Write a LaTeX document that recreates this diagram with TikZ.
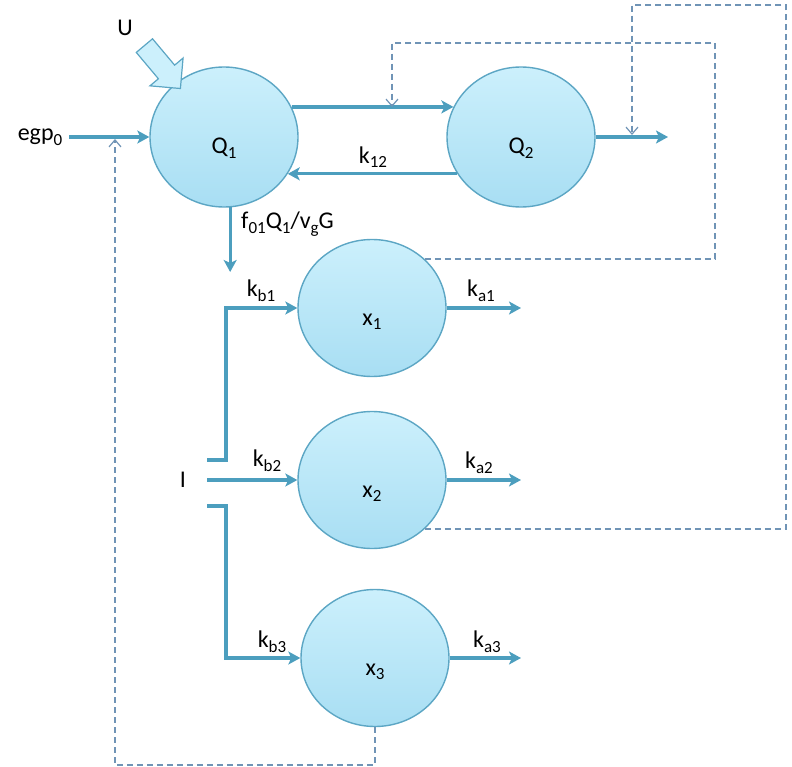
\documentclass[tikz,border=0pt]{standalone}
\usepackage{fontspec}
\setmainfont{Carlito}
\usepackage{tikz}
\usetikzlibrary{shapes.geometric, shapes.arrows, arrows.meta}

\definecolor{poolfill}{RGB}{204,240,252}
\definecolor{poolfilldark}{RGB}{168,222,243}
\definecolor{poolline}{RGB}{92,166,196}
\definecolor{flowblue}{RGB}{76,158,190}
\definecolor{dashblue}{RGB}{112,148,182}

\newcommand{\idx}[1]{\raisebox{-0.4ex}{\fontsize{17}{17}\selectfont #1}}

\begin{document}
\begin{tikzpicture}[x=1pt, y=-1pt,
    pool/.style={ellipse, draw=poolline, line width=1.4pt, top color=poolfill, bottom color=poolfilldark, minimum width=148pt, minimum height=140pt, text height=34pt, text depth=0pt, font=\fontsize{24}{28}\selectfont},
    flow/.style={-{Stealth[length=12pt, width=13pt, inset=3pt]}, line width=3.2pt, draw=flowblue},
    feedback/.style={-{Straight Barb[length=7pt, width=12pt]}, line width=1.2pt, draw=dashblue, dash pattern=on 6pt off 4pt},
    lbl/.style={font=\fontsize{24}{28}\selectfont, inner sep=1pt},
]

\useasboundingbox (0,0) rectangle (792,767);

% Compartments
\node[pool] (Q1) at (224,137) {Q\idx{1}};
\node[pool] (Q2) at (521,137) {Q\idx{2}};
\node[pool, minimum height=137pt] (x1) at (372,308) {x\idx{1}};
\node[pool, minimum height=137pt] (x2) at (372,480) {x\idx{2}};
\node[pool, minimum height=137pt] (x3) at (375,658) {x\idx{3}};

% Inputs
\node[single arrow, draw=poolline, fill=poolfill, line width=1.2pt, minimum height=56pt, minimum width=42pt, inner sep=10pt, single arrow head extend=11pt, rotate=-50] (Uarrow) at (159,63) {};
\node[lbl] (U) at (125,28) {U};
\node[lbl] (egp) at (40,137) {egp\idx{0}};
\node[lbl] (I) at (183,480) {I};

% Named points
\coordinate (Q1down) at (230,272);
\coordinate (Q2out) at (668,137);
\coordinate (I1) at (207,460);
\coordinate (I2) at (207,480);
\coordinate (I3) at (207,506);
\coordinate (o1) at (521,308);
\coordinate (o2) at (521,480);
\coordinate (o3) at (521,658);

% === Glucose flows ===
\draw[flow, shorten <=6pt] (egp) -- (Q1);
\draw[flow] (Q1.24) -- (Q2.156);
\draw[flow] (Q2.-150) -- (Q1.-30);
\draw[flow] (Q2) -- (Q2out);
\draw[flow] (Q1.-85) -- (Q1.-85 |- Q1down);
\node[lbl] (k12) at (373,157) {k\idx{12}};
\node[lbl, anchor=west] (f01) at (240,224) {f\idx{01}Q\idx{1}/v\idx{g}G};

% === Insulin flows ===
\draw[flow] (I1) -- ++(19,0) |- (x1.west);
\draw[flow] (I2) -- (x2.west);
\draw[flow] (I3) -- ++(19,0) |- (x3.west);
\draw[flow] (x1) -- (o1);
\draw[flow] (x2) -- (o2);
\draw[flow] (x3) -- (o3);
\node[lbl] (kb1) at (261,291) {k\idx{b1}};
\node[lbl] (kb2) at (267,461) {k\idx{b2}};
\node[lbl] (kb3) at (272,642) {k\idx{b3}};
\node[lbl] (ka1) at (481,291) {k\idx{a1}};
\node[lbl] (ka2) at (479,463) {k\idx{a2}};
\node[lbl] (ka3) at (487,642) {k\idx{a3}};

% === Insulin action (dashed) ===
\coordinate (d1a) at (715,43);
\coordinate (d1b) at (392,107);
\coordinate (d2a) at (786,5);
\coordinate (d2b) at (632,135);
\coordinate (d3a) at (115,765);
\coordinate (d3b) at (115,139);
\draw[feedback] (x1.43) -| (d1a) -| (d1b);
\draw[feedback] (x2.-43) -| (d2a) -| (d2b);
\draw[feedback] (x3.south) |- (d3a) -- (d3b);

\end{tikzpicture}
\end{document}
